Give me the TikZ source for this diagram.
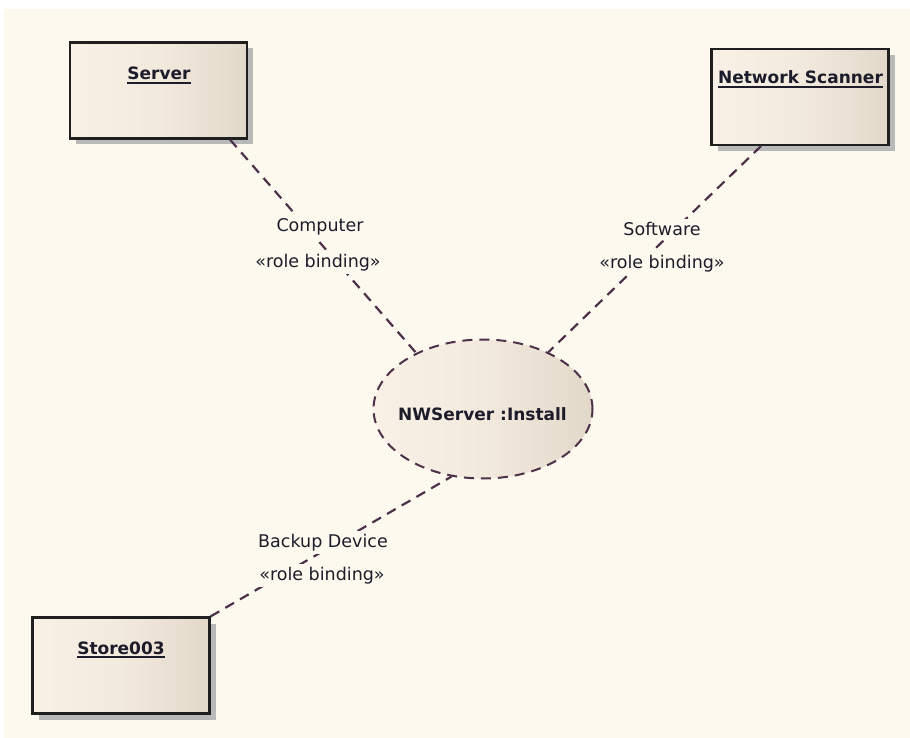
\documentclass[tikz,border=0pt]{standalone}
\usepackage{fontspec}
\setmainfont{DejaVu Sans}
\usetikzlibrary{shapes.geometric,shadows}
\definecolor{bg}{HTML}{FDF9EF}
\definecolor{boxl}{HTML}{F9F1E6}
\definecolor{boxm}{HTML}{F3EADE}
\definecolor{boxr}{HTML}{E2D8CA}
\definecolor{lnk}{HTML}{4D3049}
\definecolor{shd}{HTML}{B9B9B9}
\definecolor{txt}{HTML}{1C1C2A}
\newcommand\ulabel[1]{\vtop{\hbox{#1}\kern1.6pt\hrule height 2.2pt}}
\begin{document}
\begin{tikzpicture}[x=1pt,y=-1pt,
  objbox/.style={rectangle, draw=black!88, line width=2.2pt, inner sep=0pt,
    left color=boxl, right color=boxr, middle color=boxm,
    minimum width=177pt, minimum height=96pt,
    drop shadow={shadow xshift=6pt, shadow yshift=-6pt, fill=shd, opacity=1}},
  usecase/.style={ellipse, draw=lnk, line width=2pt, dash pattern=on 10pt off 7pt,
    inner sep=0pt, left color=boxl, right color=boxr, middle color=boxm,
    minimum width=219pt, minimum height=139pt},
  objname/.style={anchor=base, inner sep=0pt, text=txt,
    font=\fontsize{17}{20}\selectfont\bfseries},
  rolelbl/.style={anchor=base, inner xsep=3pt, inner ysep=3pt, fill=bg, text=txt,
    font=\fontsize{17.5}{20}\selectfont},
  conn/.style={draw=lnk, line width=2.2pt, dash pattern=on 10pt off 7pt}]
\useasboundingbox (0,0) rectangle (910,738);
\fill[bg] (4,9) rectangle (910,738);

% objects
\node[objbox] (server) at (158.5,90.5) {};
\node[objbox] (scan) at (800,97) {};
\node[objbox] (store) at (121,665.5) {};
\node[usecase] (inst) at (483,409) {};

\node[objname] (serverlbl) at (159,80) {\ulabel{Server}};
\node[objname] (scanlbl) at (800.5,84) {\ulabel{Network Scanner}};
\node[objname] (storelbl) at (121,654) {\ulabel{Store003}};
\node[objname] (instlbl) at (482.5,420) {NWServer :Install};

% connectors
\draw[conn] ([xshift=71.5pt]server.south) -- (inst.140);
\draw[conn] ([xshift=-39pt]scan.south) -- (inst.41);
\draw[conn] (store.north east) -- (inst.245.5);

% role labels
\node[rolelbl] (c1) at (320,232) {Computer};
\node[rolelbl] (c2) at (318,267) {«role binding»};
\node[rolelbl] (s1) at (662,235) {Software};
\node[rolelbl] (s2) at (662,268) {«role binding»};
\node[rolelbl] (b1) at (323,547) {Backup Device};
\node[rolelbl] (b2) at (322,580) {«role binding»};
\end{tikzpicture}
\end{document}
